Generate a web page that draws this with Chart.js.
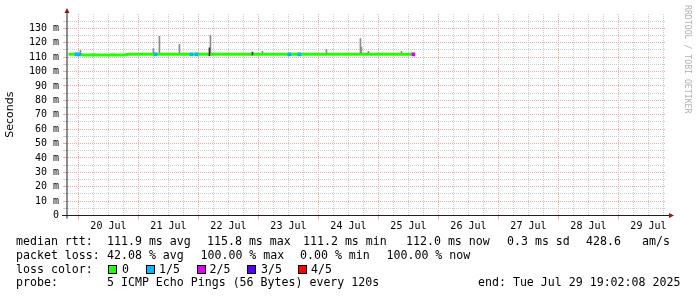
<!DOCTYPE html>
<html>
<head>
<meta charset="utf-8">
<script src="https://cdn.jsdelivr.net/npm/chart.js@4/dist/chart.umd.min.js"></script>
<style>
  html, body { margin: 0; padding: 0; background: #fff; }
  #wrap { position: relative; width: 697px; height: 297px; overflow: hidden;
          font-family: 'DejaVu Sans Mono', monospace; font-size: 11.6px; color: #000; }
  #wrap canvas { position: absolute; left: 0; top: 0; }
  .t { position: absolute; white-space: pre; line-height: 14px; }
  .box { position: absolute; top: 265px; width: 7px; height: 7px; border: 1px solid #000; }
  #mark { position: absolute; left: 692px; top: 5px; transform-origin: 0 0; transform: rotate(90deg);
          font-size: 8.2px; line-height: 8px; color: #b0b0b0; white-space: pre; }
</style>
</head>
<body>
<div id="wrap">
  <canvas id="chart" width="697" height="297"></canvas>
  <div id="mark">RRDTOOL / TOBI OETIKER</div>
  <div id="legend"></div>
</div>
<script>
// ── DATA ─────────────────────────────────────────────────────────────────
// time axis in hours since 19 Jul 00:00
const T_START = 19.03;           // Sat Jul 19 19:02
const T_END   = 259.03;          // Tue Jul 29 19:02
const DAY_LABELS = ['20 Jul','21 Jul','22 Jul','23 Jul','24 Jul','25 Jul','26 Jul','27 Jul','28 Jul','29 Jul'];
const Y_MAX = 140;               // ms

// median rtt (ms), one value every 2 h from 20 h on
const MED_T0 = 20, MED_STEP = 2;
const MEDIAN = [
  112.0, 112.0, 112.0, 111.6, 111.6, 111.7, 111.5, 111.6, 111.6, 111.7,
  111.6, 111.6, 112.0, 112.0, 112.1, 112.0, 112.0, 112.0, 112.0, 112.0,
  112.0, 112.0, 112.1, 112.0, 112.0, 112.0, 112.0, 112.0, 112.0, 112.0,
  112.0, 112.0, 112.0, 112.0, 112.0, 112.0, 112.1, 112.0, 112.0, 112.0,
  112.0, 112.0, 112.0, 112.0, 112.0, 112.0, 112.0, 112.0, 112.0, 112.0,
  112.0, 112.0, 112.0, 112.0, 112.0, 112.0, 112.0, 112.0, 112.0, 112.0,
  112.0, 112.0, 112.0, 112.0, 112.0, 112.0, 112.0, 112.0, 112.0, 112.0
];

// lost pings out of 5, where any were lost
const LOSS_T = [23.2, 24.4, 54.8, 69.2, 71.2, 108.4, 112.4, 158.0];
const LOSS_N = [1,    1,    1,    1,    1,    1,     1,     2    ];

// smoke (ping spread) spikes
const SMOKE_T     = [24.8,  54.0,  56.4,  64.4,  76.8,  76.4,  93.6,  97.6,  123.2, 136.8, 137.2, 140.0, 153.2];
const SMOKE_LO    = [113.0, 113.0, 113.0, 113.0, 113.0, 110.8, 111.5, 113.0, 113.0, 113.0, 113.0, 113.0, 113.0];
const SMOKE_HI    = [114.7, 116.0, 124.4, 118.9, 125.3, 116.5, 113.6, 114.0, 115.5, 123.0, 117.0, 114.0, 114.0];
const SMOKE_DENSE = [0,     0,     0,     0,     0,     1,     1,     0,     0,     0,     0,     0,     0    ];

const LOSS_COLORS = ['#26ff00', '#00b8ff', '#dd00ff', '#5500ff', '#ff0000'];
const LOSS_NAMES  = ['0', '1/5', '2/5', '3/5', '4/5'];

// ── STYLE ────────────────────────────────────────────────────────────────
const MGRID = '#f0aaaa';
const GRID  = '#cdcdcd';
const AXIS  = '#1f1f1f';
const ARROW = '#8b1c1c';
const MONO  = 'DejaVu Sans Mono';

const xGrid = [];
for (let h = 24; h < T_END; h += 6) xGrid.push(h);
const yGrid = [];
for (let v = 0; v < Y_MAX; v += 5) yGrid.push(v);

const isMajorX = c => c.tick && c.tick.value % 24 === 0;
const isMajorY = c => c.tick && c.tick.value % 10 === 0;

// axes + arrows the rrdtool way
const rrdAxes = {
  id: 'rrdAxes',
  afterDraw(chart) {
    const { ctx, chartArea: a } = chart;
    ctx.save();
    ctx.strokeStyle = AXIS;
    ctx.lineWidth = 1;
    ctx.beginPath();
    ctx.moveTo(a.left - 4, a.bottom);
    ctx.lineTo(a.right + 4, a.bottom);
    ctx.moveTo(a.left + 1, a.bottom + 3);
    ctx.lineTo(a.left + 1, a.top - 2);
    ctx.stroke();
    ctx.fillStyle = ARROW;
    ctx.beginPath();
    ctx.moveTo(a.left + 1, a.top - 6);
    ctx.lineTo(a.left - 1.5, a.top - 1);
    ctx.lineTo(a.left + 3.5, a.top - 1);
    ctx.closePath();
    ctx.fill();
    ctx.beginPath();
    ctx.moveTo(a.right + 8, a.bottom);
    ctx.lineTo(a.right + 3, a.bottom - 2.5);
    ctx.lineTo(a.right + 3, a.bottom + 2.5);
    ctx.closePath();
    ctx.fill();
    ctx.restore();
  }
};

new Chart(document.getElementById('chart'), {
  type: 'line',
  data: {
    datasets: [
      {
        type: 'bar', label: 'smoke', order: 0, grouped: false,
        data: SMOKE_T.map((t, i) => ({ x: t, y: [SMOKE_LO[i], SMOKE_HI[i]] })),
        backgroundColor: SMOKE_DENSE.map(d => d ? '#3a3a3a' : '#8c8c8c'),
        barThickness: 1,
      },
      {
        type: 'bar', label: 'loss', order: 1, grouped: false,
        data: LOSS_T.map(t => ({ x: t, y: [110.9, 113.1] })),
        backgroundColor: LOSS_N.map(n => LOSS_COLORS[n]),
        barThickness: 3,
      },
      {
        type: 'line', label: 'median', order: 2,
        data: MEDIAN.map((m, i) => ({ x: MED_T0 + i * MED_STEP, y: m })),
        borderColor: LOSS_COLORS[0], borderWidth: 3,
        pointRadius: 0, tension: 0, borderCapStyle: 'butt',
      }
    ]
  },
  options: {
    responsive: false, animation: false, events: [],
    layout: { padding: { top: 14, right: 31, bottom: 61.5, left: 0 } },
    plugins: { legend: { display: false }, tooltip: { enabled: false } },
    scales: {
      x: {
        type: 'linear', min: T_START, max: T_END, offset: false,
        afterBuildTicks: s => { s.ticks = xGrid.map(v => ({ value: v })); },
        afterFit: s => { s.height = 20; },
        ticks: {
          autoSkip: false, maxRotation: 0, padding: 1, color: '#000',
          font: { family: MONO, size: 10 },
          callback: v => v % 24 === 12 ? DAY_LABELS[(v - 36) / 24] : ''
        },
        grid: {
          color: c => isMajorX(c) ? MGRID : GRID,
          tickColor: c => isMajorX(c) ? MGRID : 'rgba(0,0,0,0)',
          tickLength: 4, lineWidth: 1, offset: false
        },
        border: { display: false, dash: [1, 1] }
      },
      y: {
        min: 0, max: Y_MAX,
        afterBuildTicks: s => { s.ticks = yGrid.map(v => ({ value: v })); },
        afterFit: s => { s.width = 66; },
        ticks: {
          autoSkip: false, padding: 4, color: '#000',
          font: { family: MONO, size: 10 },
          callback: v => v % 10 ? '' : (v ? v + ' m' : '0')
        },
        grid: {
          color: c => isMajorY(c) ? MGRID : GRID,
          tickColor: c => isMajorY(c) ? MGRID : GRID,
          tickLength: 3, lineWidth: 1
        },
        border: { display: false, dash: [1, 1] },
        title: {
          display: true, text: 'Seconds', color: '#000',
          font: { family: 'DejaVu Sans', size: 11 },
          padding: { top: 4, bottom: 0 }
        }
      }
    }
  },
  plugins: [rrdAxes]
});

// ── LEGEND (text under the graph) ────────────────────────────────────────
const LEGEND_TEXT = [
  [234,   16, 'median rtt:'], [234, 107, '111.9 ms avg'], [234, 207, '115.8 ms max'],
  [234,  303, '111.2 ms min'], [234, 406, '112.0 ms now'], [234, 507, '0.3 ms sd'],
  [234,  586, '428.6'], [234, 642, 'am/s'],
  [247.5, 16, 'packet loss:'], [247.5, 107, '42.08 % avg'], [247.5, 200.5, '100.00 % max'],
  [247.5, 300, '0.00 % min'], [247.5, 386.5, '100.00 % now'],
  [261.5, 16, 'loss color:'],
  [275,   16, 'probe:'], [275, 107, '5 ICMP Echo Pings (56 Bytes) every 120s'],
  [275,  478, 'end: Tue Jul 29 19:02:08 2025']
];
const BOX_X  = [108, 146, 197, 247, 298];
const NAME_X = [122, 159, 209.5, 261, 311];

const legend = document.getElementById('legend');
LEGEND_TEXT.forEach(([top, left, s]) => {
  const d = document.createElement('div');
  d.className = 't';
  d.style.top = top + 'px';
  d.style.left = left + 'px';
  d.textContent = s;
  legend.appendChild(d);
});
LOSS_NAMES.forEach((n, i) => {
  const b = document.createElement('div');
  b.className = 'box';
  b.style.left = BOX_X[i] + 'px';
  b.style.background = LOSS_COLORS[i];
  legend.appendChild(b);
  const d = document.createElement('div');
  d.className = 't';
  d.style.top = '261.5px';
  d.style.left = NAME_X[i] + 'px';
  d.textContent = n;
  legend.appendChild(d);
});
</script>
</body>
</html>
